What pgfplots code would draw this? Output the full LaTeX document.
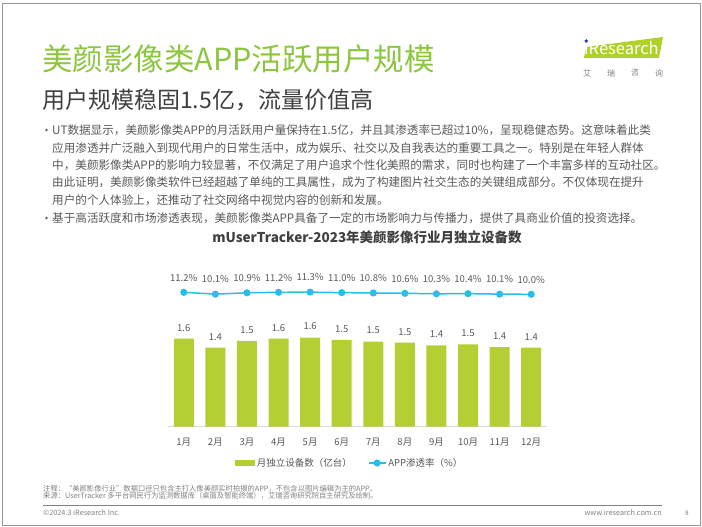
\documentclass[border=0pt]{standalone}
\usepackage{fontspec}
\setmainfont{Noto Sans CJK SC}
\usepackage{pgfplots}
\pgfplotsset{compat=1.18}
\definecolor{titlegreen}{RGB}{140,198,63}
\definecolor{bargreen}{RGB}{179,207,52}
\definecolor{logogreen}{RGB}{176,210,40}
\definecolor{logoblue}{RGB}{30,70,150}
\definecolor{linecyan}{RGB}{41,190,234}
\definecolor{textgray}{RGB}{89,89,89}
\definecolor{subgray}{RGB}{64,64,64}
\definecolor{axisgray}{RGB}{217,217,217}
\definecolor{framegray}{RGB}{150,150,150}
\definecolor{footgray}{RGB}{130,130,130}
\begin{document}
\begin{tikzpicture}[x=1pt,y=1pt]
\useasboundingbox (0,0) rectangle (702,527);
\fill[white] (0,0) rectangle (702,527);
\draw[framegray, line width=0.8pt] (2,2) rectangle (700.5,524);
% title
\node[anchor=west, inner sep=0, text=titlegreen, font=\fontsize{30.5}{34}\selectfont] at (42,468) {美颜影像类APP活跃用户规模};
\node[anchor=west, inner sep=0, text=subgray, font=\fontsize{23}{26}\selectfont] at (42,427) {用户规模稳固1.5亿，流量价值高};
% logo
\fill[logogreen] (586,480) -- (663,490) -- (659,469) -- (584,469) -- cycle;
\node[anchor=base west, inner sep=0, text=white, font=\fontsize{16.5}{18}\selectfont] at (584,472.5) {iResearch};
\fill[logoblue] (586.3,486) circle (1.9);
\foreach \c/\xx in {艾/587,瑞/611,咨/635,询/659}
  \node[text=footgray, font=\fontsize{8}{9}\selectfont, inner sep=0] at (\xx,454) {\c};
% bullets
\fill[textgray] (46.5,397) circle (1.3);
\fill[textgray] (46.5,309) circle (1.3);
\begin{scope}[every node/.style={anchor=west, inner sep=0, text=textgray, font=\fontsize{11.6}{14}\selectfont}]
\node at (52,397) {UT数据显示，美颜影像类APP的月活跃用户量保持在1.5亿，并且其渗透率已超过10\%，呈现稳健态势。这意味着此类};
\node at (52,379) {应用渗透并广泛融入到现代用户的日常生活中，成为娱乐、社交以及自我表达的重要工具之一。特别是在年轻人群体};
\node at (52,362) {中，美颜影像类APP的影响力较显著，不仅满足了用户追求个性化美照的需求，同时也构建了一个丰富多样的互动社区。};
\node at (52,345) {由此证明，美颜影像类软件已经超越了单纯的工具属性，成为了构建图片社交生态的关键组成部分。不仅体现在提升};
\node at (52,327) {用户的个人体验上，还推动了社交网络中视觉内容的创新和发展。};
\node at (52,309) {基于高活跃度和市场渗透表现，美颜影像类APP具备了一定的市场影响力与传播力，提供了具商业价值的投资选择。};
\end{scope}
% chart title
\node[text=subgray, font=\fontsize{13.5}{16}\selectfont\bfseries, inner sep=0] at (367,290) {mUserTracker-2023年美颜影像行业月独立设备数};
% bar axis
\begin{axis}[
  at={(168pt,100.3pt)}, anchor=south west,
  scale only axis, width=379pt, height=160pt,
  xmin=-0.5, xmax=11.5, ymin=0, ymax=2.837,
  axis x line*=bottom, axis y line=none,
  x axis line style={draw=axisgray, line width=0.8pt, -},
  xtick={0,1,2,3,4,5,6,7,8,9,10,11},
  xticklabels={1月,2月,3月,4月,5月,6月,7月,8月,9月,10月,11月,12月},
  major tick length=0pt,
  xticklabel style={font=\fontsize{9.5}{11}\selectfont, text=textgray, yshift=-8pt},
  ytick=\empty,
  ybar, bar width=20pt,
  /pgf/number format/assume math mode=true,
]
\addplot[fill=bargreen, draw=none,
  point meta=y,
  nodes near coords={\pgfmathprintnumber[fixed,fixed zerofill,precision=1]{\pgfplotspointmeta}},
  every node near coord/.append style={font=\fontsize{9.5}{11}\selectfont, text=textgray, yshift=4pt}]
coordinates {(0,1.56) (1,1.40) (2,1.52) (3,1.56) (4,1.58) (5,1.54) (6,1.51) (7,1.49) (8,1.44) (9,1.46) (10,1.41) (11,1.40)};
\end{axis}
% line axis
\begin{axis}[
  at={(168pt,100.3pt)}, anchor=south west,
  scale only axis, width=379pt, height=160pt,
  xmin=-0.5, xmax=11.5, ymin=-69.44, ymax=26.56,
  hide axis, clip=false,
  /pgf/number format/assume math mode=true,
  legend columns=2,
  legend style={at={(0.48,-0.227)}, anchor=center, draw=none, fill=none,
    font=\fontsize{9.5}{11}\selectfont, text=textgray,
    /tikz/every even column/.append style={column sep=14pt}},
]
\addlegendimage{legend image code/.code={\fill[bargreen] (0pt,-2.5pt) rectangle (19pt,2.5pt);}}
\addlegendentry{月独立设备数（亿台）}
\addplot[color=linecyan, line width=1.5pt, mark=*, mark size=2.8pt,
  mark options={fill=linecyan, draw=linecyan},
  point meta=y,
  nodes near coords={\pgfmathprintnumber[fixed,fixed zerofill,precision=1]{\pgfplotspointmeta}\%},
  every node near coord/.append style={font=\fontsize{9.5}{11}\selectfont, text=textgray, yshift=7pt}]
coordinates {(0,11.2) (1,10.1) (2,10.9) (3,11.2) (4,11.3) (5,11.0) (6,10.8) (7,10.6) (8,10.3) (9,10.4) (10,10.1) (11,10.0)};
\addlegendentry{APP渗透率（\%）}
\end{axis}
% footer
\begin{scope}[every node/.style={anchor=west, inner sep=0, text=footgray, font=\fontsize{7.3}{9}\selectfont}]
\node at (43,38) {注释：“美颜影像行业”数据口径只包含主打人像美颜实时拍摄的APP，不包含以图片编辑为主的APP。};
\node at (43,31) {来源：UserTracker 多平台网民行为监测数据库（桌面及智能终端），艾瑞咨询研究院自主研究及绘制。};
\node at (43,14) {©2024.3 iResearch Inc.};
\node[anchor=east] at (662,14) {www.iresearch.com.cn};
\node[font=\fontsize{6.5}{8}\selectfont] at (685,14) {8};
\end{scope}
\draw[footgray, line width=0.6pt] (43,22) -- (662,22);
\end{tikzpicture}
\end{document}
